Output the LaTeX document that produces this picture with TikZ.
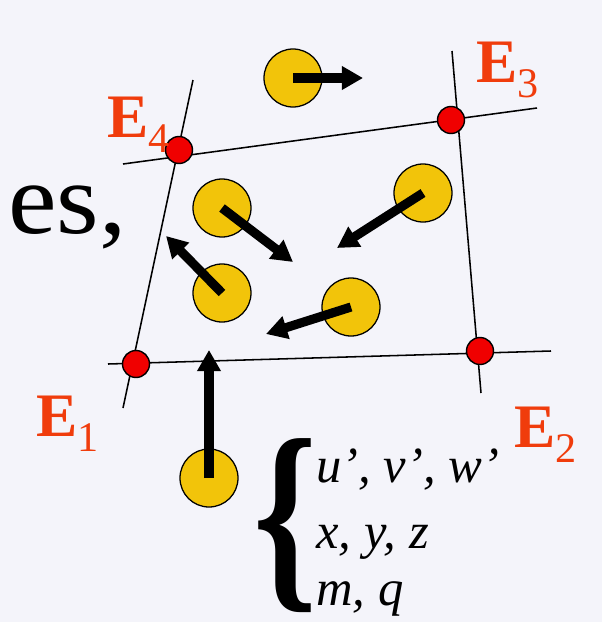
\documentclass[tikz,border=0pt]{standalone}
\usepackage{fontspec}
\setmainfont{Liberation Serif}[BoldFont={Liberation Serif Bold},ItalicFont={Liberation Serif Italic}]
\newfontfamily\wordfont{Liberation Serif}[FakeStretch=1.08]
\usetikzlibrary{arrows.meta}

\definecolor{bgpage}{HTML}{F4F4FA}
\definecolor{gold}{HTML}{F2C40A}
\definecolor{dotred}{HTML}{F00000}
\definecolor{labelred}{HTML}{F03C0C}

\newcommand{\esub}[1]{\raisebox{-10.7pt}{\fontsize{30}{30}\selectfont\mdseries #1}}

\begin{document}
\begin{tikzpicture}[x=0.25mm,y=-0.25mm,
		>={Triangle[length=15pt,width=16pt]},
		grid/.style={line width=1.1pt},
		particle/.style={circle,draw,line width=0.9pt,fill=gold,minimum size=14.5mm,inner sep=0pt},
		corner/.style={circle,draw,line width=1pt,fill=dotred,minimum size=6.75mm,inner sep=0pt},
		vel/.style={->,line width=6.5pt},
		elabel/.style={anchor=base west,inner sep=0pt,text=labelred,font=\bfseries\fontsize{44}{44}\selectfont},
		varlabel/.style={anchor=base west,inner sep=0pt,font=\itshape\fontsize{36}{36}\selectfont}]
	
	\fill[bgpage] (0,0) rectangle (602,622);
	\useasboundingbox (0,0) rectangle (602,622);
	
	\node[anchor=base east,inner sep=0pt,font=\wordfont\fontsize{72}{72}\selectfont] (word) at (127,233) {es,};
	
	% faces of the cell
	\coordinate (t1) at (123,164);
	\coordinate (t2) at (537,108);
	\coordinate (b1) at (108,364);
	\coordinate (b2) at (551,351);
	\coordinate (l1) at (193,80);
	\coordinate (l2) at (123,408);
	\coordinate (r1) at (452,51);
	\coordinate (r2) at (481,393);
	
	\draw[grid](t1)--(t2);
	\draw[grid](b1)--(b2);
	\draw[grid](l1)--(l2);
	\draw[grid](r1)--(r2);
	
	% particles
	\node[particle](p0) at (293,78){};
	\node[particle](pa) at (222,208){};
	\node[particle](pb) at (222,293){};
	\node[particle](pc) at (423,193){};
	\node[particle](pd) at (351,307){};
	\node[particle](pe) at (209,478){};
	
	\coordinate (v0) at (363,78);
	\coordinate (va) at (293,262);
	\coordinate (vb) at (166,236);
	\coordinate (vc) at (337,248);
	\coordinate (vd) at (266,334);
	\coordinate (ve) at (209,350);
	
	\draw[vel](p0.center)--(v0);
	\draw[vel](pa.center)--(va);
	\draw[vel](pb.center)--(vb);
	\draw[vel](pc.center)--(vc);
	\draw[vel](pd.center)--(vd);
	\draw[vel](pe.center)--(ve);
	
	% corners
	\node[corner](e1) at (136,364){};
	\node[corner](e2) at (480,351){};
	\node[corner](e3) at (451,120){};
	\node[corner](e4) at (179,150){};
	
	\node[elabel](n1) at (36,436){E\esub{1}};
	\node[elabel](n2) at (514,447){E\esub{2}};
	\node[elabel](n3) at (476,82){E\esub{3}};
	\node[elabel](n4) at (107,137){E\esub{4}};
	
	% variables carried by a particle
	\node[inner sep=0pt](brace) at (286,526){\resizebox*{16mm}{43.5mm}{\bfseries\{}};
	
	\node[varlabel](var1) at (316,482){u’, v’, w’};
	\node[varlabel](var2) at (316,548){x, y, z};
	\node[varlabel](var3) at (316,605){m, q};
	
\end{tikzpicture}
\end{document}
